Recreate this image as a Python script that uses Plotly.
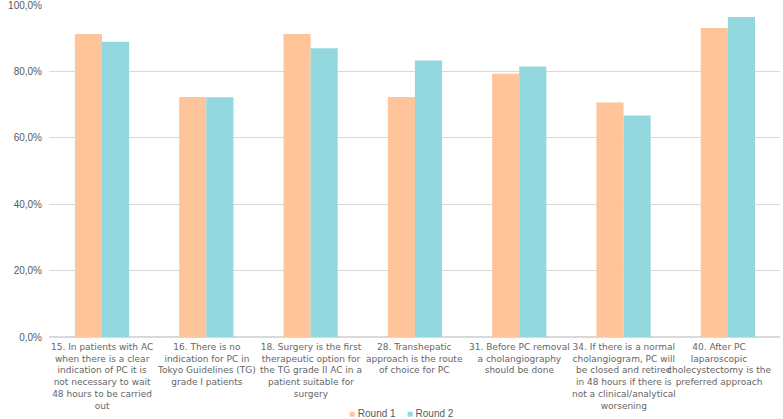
import plotly.graph_objects as go

categories = [
    "15. In patients with AC<br>when there is a clear<br>indication of PC it is<br>not necessary to wait<br>48 hours to be carried<br>out",
    "16. There is no<br>indication for PC in<br>Tokyo Guidelines (TG)<br>grade I patients",
    "18. Surgery is the first<br>therapeutic option for<br>the TG grade II AC in a<br>patient suitable for<br>surgery",
    "28. Transhepatic<br>approach is the route<br>of choice for PC",
    "31. Before PC removal<br>a cholangiography<br>should be done",
    "34. If there is a normal<br>cholangiogram, PC will<br>be closed and retired<br>in 48 hours if there is<br>not a clinical/analytical<br>worsening",
    "40. After PC<br>laparoscopic<br>cholecystectomy is the<br>preferred approach",
]
round1 = [91.3, 72.3, 91.3, 72.3, 79.3, 70.6, 93.1]
round2 = [88.9, 72.2, 87.0, 83.3, 81.5, 66.7, 96.4]
tick_vals = [0, 20, 40, 60, 80, 100]
tick_text = ["0,0%", "20,0%", "40,0%", "60,0%", "80,0%", "100,0%"]
series_names = ["Round 1", "Round 2"]
colors = ["#FFC499", "#92D8DE"]
label_shift = [0, 0, 0, 0, 0, 0, -9]

fig = go.Figure()
fig.add_trace(go.Bar(x=categories, y=round1, name=series_names[0], marker_color=colors[0],
                     marker_line_width=0))
fig.add_trace(go.Bar(x=categories, y=round2, name=series_names[1], marker_color=colors[1],
                     marker_line_width=0))

# category labels below the axis
for cat, dx in zip(categories, label_shift):
    fig.add_annotation(x=cat, xref="x", y=0, yref="paper", yanchor="top", yshift=-3,
                       xshift=dx, text=cat, showarrow=False, align="center",
                       font=dict(family="DejaVu Sans", size=9, color="#666666"))

# legend
legend_text = (f"<span style='color:{colors[0]}'>■</span> {series_names[0]}"
               f"&nbsp;&nbsp;&nbsp;&nbsp;<span style='color:{colors[1]}'>■</span> {series_names[1]}")
fig.add_annotation(x=0.5, xref="paper", xshift=-13, y=0, yref="paper", yshift=-76,
                   yanchor="middle", xanchor="center", text=legend_text, showarrow=False,
                   font=dict(family="Liberation Sans, Arial", size=10, color="#595959"))

fig.update_layout(
    width=783, height=419,
    margin=dict(l=49, r=3, t=5, b=82),
    paper_bgcolor="white", plot_bgcolor="white",
    barmode="group", bargap=0.48, bargroupgap=0,
    font=dict(family="Liberation Sans, Arial", size=10, color="#595959"),
    showlegend=False,
)
fig.update_yaxes(range=[0, 100], tickvals=tick_vals, ticktext=tick_text,
                 showgrid=True, gridcolor="#D9D9D9", gridwidth=1, zeroline=True,
                 zerolinecolor="#D9D9D9", ticks="", showline=False, automargin=False,
                 ticklabelstandoff=6, ticklabeloverflow="allow")
fig.update_xaxes(showticklabels=False, showline=False, ticks="", automargin=False)

fig.write_html("out.html", config={"displayModeBar": False},
               post_script="document.body.style.margin='0';document.body.style.overflow='hidden';")
